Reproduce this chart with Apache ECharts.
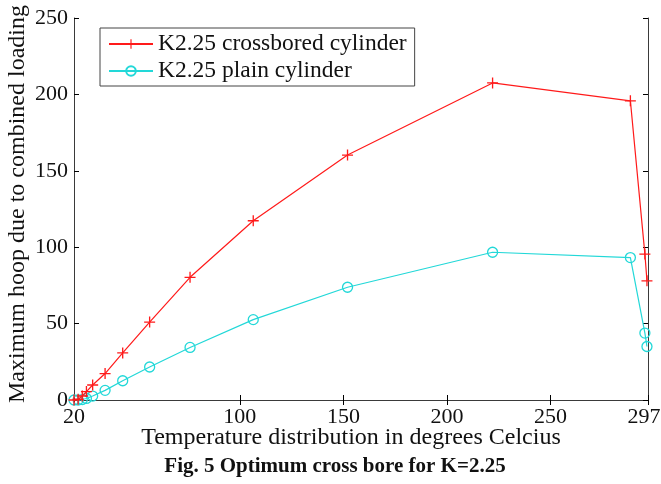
<!DOCTYPE html>
<html>
<head>
<meta charset="utf-8">
<script src="https://cdn.jsdelivr.net/npm/echarts@6/dist/echarts.min.js"></script>
<style>
  html, body { margin: 0; padding: 0; background: #fff; }
  #chart { width: 661px; height: 484px; }
</style>
</head>
<body>
<div id="chart"></div>
<script>
// Temperature (degrees Celcius) at each sample point
var temperature = [20, 22, 24, 26, 29, 35, 43.5, 56.5, 76, 106.5, 152, 222, 288.5, 295.5, 296.5];
// Maximum hoop stress due to combined loading
var crossbored = [0, 0.5, 2.6, 5.5, 9.8, 17.3, 30.8, 51, 80.3, 117.3, 160.3, 207.5, 195.8, 95.5, 78];
var plain = [0, 0, 0.3, 1, 2.6, 6.3, 12.6, 21.6, 34.4, 52.6, 73.8, 96.7, 93.2, 43.8, 35];
// Axis tick labels
var xTicks = [20, 100, 150, 200, 250, 297];
var yTicks = [0, 50, 100, 150, 200, 250];

var seriesNames = ['K2.25 crossbored cylinder', 'K2.25 plain cylinder'];

function pairs(xs, ys) {
  return xs.map(function (x, i) { return [x, ys[i]]; });
}

var serif = 'Liberation Serif';
var axisColor = '#3a3a3a';
var red = '#ff1a1a';
var cyan = '#22d8d8';
var plusPath = 'path://M44,0 H56 V44 H100 V56 H56 V100 H44 V56 H0 V44 H44 Z';

var chart = echarts.init(document.getElementById('chart'), null, { renderer: 'canvas' });

var baseX = {
  type: 'value', min: 20, max: 297,
  axisLine: { show: true, lineStyle: { color: axisColor, width: 1 } },
  axisTick: { show: true, inside: true, length: 5, customValues: xTicks, lineStyle: { color: '#000' } },
  splitLine: { show: false }
};
var baseY = {
  type: 'value', min: 0, max: 250, interval: 50,
  axisLine: { show: true, lineStyle: { color: axisColor, width: 1 } },
  axisTick: { show: true, inside: true, length: 5, lineStyle: { color: '#000' } },
  splitLine: { show: false }
};

var lastX = xTicks[xTicks.length - 1];

chart.setOption({
  animation: false,
  backgroundColor: '#fff',
  grid: { left: 74, right: 13, top: 18, bottom: 84, containLabel: false, outerBoundsMode: 'none' },
  legend: {
    left: 100, top: 28,
    orient: 'vertical',
    backgroundColor: '#fff',
    borderColor: '#444', borderWidth: 1,
    padding: [4, 8, 3, 8],
    itemWidth: 44, itemHeight: 12, itemGap: 3,
    textStyle: { fontFamily: serif, fontSize: 23.5, color: '#111', lineHeight: 24 },
    data: seriesNames
  },
  xAxis: [
    Object.assign({}, baseX, {
      position: 'bottom',
      axisLabel: {
        show: true, customValues: xTicks, margin: 6, fontFamily: serif, fontSize: 22, color: '#111',
        // keep the last label inside the canvas edge
        formatter: function (v) { return v === lastX ? '{edge|' + v + '}' : String(v); },
        rich: { edge: { fontFamily: serif, fontSize: 22, color: '#111', padding: [0, 8, 0, 0] } }
      }
    }),
    Object.assign({}, baseX, { position: 'top', axisLabel: { show: false } })
  ],
  yAxis: [
    Object.assign({}, baseY, {
      position: 'left',
      axisLabel: { show: true, margin: 6, fontFamily: serif, fontSize: 22, color: '#111' }
    }),
    Object.assign({}, baseY, { position: 'right', axisLabel: { show: false } })
  ],
  graphic: [
    {
      type: 'text', x: 351, y: 438,
      style: { text: 'Temperature distribution in degrees Celcius', font: '24px "Liberation Serif"', fill: '#111', align: 'center', verticalAlign: 'middle' }
    },
    {
      type: 'text', x: 18, y: 204, rotation: Math.PI / 2,
      style: { text: 'Maximum hoop due to combined loading', font: '24px "Liberation Serif"', fill: '#111', align: 'center', verticalAlign: 'middle' }
    },
    {
      type: 'text', x: 335, y: 467,
      style: { text: 'Fig. 5 Optimum cross bore for K=2.25', font: 'bold 21px "Liberation Serif"', fill: '#111', align: 'center', verticalAlign: 'middle' }
    }
  ],
  series: [
    {
      name: seriesNames[0], type: 'line', xAxisIndex: 0, yAxisIndex: 0,
      data: pairs(temperature, crossbored),
      symbol: plusPath, symbolSize: 11, showAllSymbol: true,
      lineStyle: { color: red, width: 1.2 },
      itemStyle: { color: red },
      clip: false, z: 3
    },
    {
      name: seriesNames[1], type: 'line', xAxisIndex: 0, yAxisIndex: 0,
      data: pairs(temperature, plain),
      symbol: 'circle', symbolSize: 10, showAllSymbol: true,
      lineStyle: { color: cyan, width: 1.2 },
      itemStyle: { color: 'rgba(255,255,255,0)', borderColor: cyan, borderWidth: 1.3 },
      clip: false, z: 2
    }
  ]
});
</script>
</body>
</html>
